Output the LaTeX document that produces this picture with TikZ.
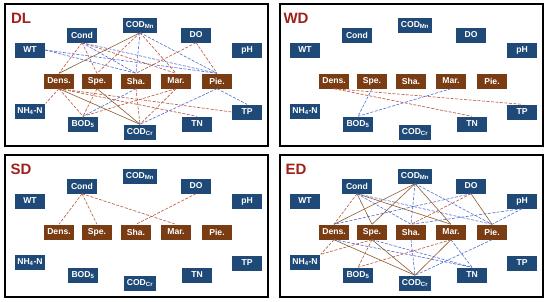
\documentclass[tikz,border=0pt]{standalone}
\usepackage{fontspec}
\setmainfont{Liberation Sans}
\usetikzlibrary{positioning}

\definecolor{boxblue}{HTML}{1F4A78}
\definecolor{boxbrown}{HTML}{7A3C12}
\definecolor{tagred}{HTML}{A0201C}
\definecolor{linkbrown}{HTML}{8B5A2B}
\definecolor{linkred}{HTML}{B8553C}
\definecolor{linkblue}{HTML}{4F6BD0}

% the fifteen boxes of one panel, #1 = panel tag
\newcommand{\panelnodes}[1]{%
  \draw[frame] (5,4) rectangle (268,146);
  \node[tag] (tag) at (21,18) {#1};
  \node[param] (wt) at (30,50) {WT};
  \node[param] (cond) at (82,35) {Cond};
  \node[param] (codmn) at (140,25) {COD\textsubscript{Mn}};
  \node[param] (do) at (196,35) {DO};
  \node[param] (ph) at (247,50) {pH};
  \node[feature] (dens) at (59,81) {Dens.};
  \node[feature] (spe) at (97,81) {Spe.};
  \node[feature] (sha) at (136,81) {Sha.};
  \node[feature] (mar) at (176,81) {Mar.};
  \node[feature] (pie) at (217,81) {Pie.};
  \node[param] (nh) at (30,111) {NH\textsubscript{4}-N};
  \node[param] (bod) at (83,124) {BOD\textsubscript{5}};
  \node[param] (codcr) at (140,132) {COD\textsubscript{Cr}};
  \node[param] (tn) at (197,124) {TN};
  \node[param] (tp) at (247,112) {TP};
}

\begin{document}
\begin{tikzpicture}[
    x=1pt, y=-1pt,
    frame/.style={draw=black, line width=1.1pt},
    tag/.style={text=tagred, font=\bfseries\fontsize{15}{17}\selectfont, inner sep=1pt},
    param/.style={rectangle, fill=boxblue, text=white, minimum width=30pt,
                  minimum height=15pt, inner sep=2.8pt, font=\bfseries\fontsize{8.6}{10}\selectfont},
    feature/.style={param, fill=boxbrown, minimum width=30pt, minimum height=15pt},
    strong/.style={draw=linkbrown, line width=0.6pt},
    weak/.style={draw=linkred, line width=0.6pt, dash pattern=on 3pt off 1.5pt},
    neg/.style={draw=linkblue, line width=0.6pt, dash pattern=on 3pt off 1.5pt}
]
\useasboundingbox (0,0) rectangle (550,301);

% DL
\begin{scope}[name prefix=dl-]
\panelnodes{DL}
\draw[weak] (cond.south) -- (dens.north);
\draw[weak] (cond.south) -- (spe.north);
\draw[neg] (cond.south) -- (sha.north);
\draw[weak] (cond.south) -- (mar.north);
\draw[neg] (cond.south) -- (pie.north);
\draw[strong] (codmn.south) -- (dens.north);
\draw[weak] (codmn.south) -- (spe.north);
\draw[neg] (codmn.south) -- (sha.north);
\draw[weak] (codmn.south) -- (mar.north);
\draw[neg] (codmn.south) -- (pie.north);
\draw[neg] (wt.east) -- (sha.north);
\draw[neg] (wt.east) -- (pie.north);
\draw[weak] (do.south) -- (sha.north);
\draw[weak] (do.south) -- (pie.north);
\draw[weak] (dens.south) -- (nh.north east);
\draw[weak] (dens.south) -- (bod.north);
\draw[strong] (dens.south) -- (codcr.north);
\draw[weak] (dens.south) -- (tn.north);
\draw[weak] (dens.south) -- (tp.west);
\draw[weak] (spe.south) -- (bod.north);
\draw[strong] (spe.south) -- (codcr.north);
\draw[neg] (sha.south) -- (bod.north);
\draw[weak] (sha.south) -- (codcr.north);
\draw[weak] (mar.south) -- (bod.north);
\draw[weak] (mar.south) -- (codcr.north);
\draw[neg] (pie.south) -- (codcr.north);
\draw[neg] (pie.south) -- (tp.north);
\end{scope}

% WD
\begin{scope}[shift={(275,0)}, name prefix=wd-]
\panelnodes{WD}
\draw[weak] (dens.south) -- (tn.north);
\draw[weak] (dens.south) -- (tp.north);
\draw[neg] (spe.south) -- (bod.north);
\draw[neg] (mar.south) -- (bod.north);
\end{scope}

% SD
\begin{scope}[shift={(0,151)}, name prefix=sd-]
\panelnodes{SD}
\draw[weak] (cond.south) -- (dens.north);
\draw[weak] (cond.south) -- (spe.north);
\draw[weak] (cond.south) -- (mar.north);
\draw[weak] (do.south) -- (sha.north);
\end{scope}

% ED
\begin{scope}[shift={(275,151)}, name prefix=ed-]
\panelnodes{ED}
\draw[weak] (cond.south) -- (dens.north);
\draw[strong] (cond.south) -- (spe.north);
\draw[neg] (cond.south) -- (sha.north);
\draw[strong] (cond.south) -- (mar.north);
\draw[neg] (cond.south) -- (pie.north);
\draw[strong] (codmn.south) -- (dens.north);
\draw[strong] (codmn.south) -- (spe.north);
\draw[neg] (codmn.south) -- (sha.north);
\draw[strong] (codmn.south) -- (mar.north);
\draw[neg] (codmn.south) -- (pie.north);
\draw[neg] (do.south) -- (dens.north);
\draw[weak] (do.south) -- (sha.north);
\draw[strong] (do.south) -- (pie.north);
\draw[neg] (ph.south) -- (sha.north);
\draw[neg] (ph.south) -- (pie.north);
\draw[weak] (dens.south) -- (nh.north east);
\draw[strong] (dens.south) -- (codcr.north);
\draw[neg] (dens.south) -- (tn.north);
\draw[weak] (spe.south) -- (nh.north east);
\draw[weak] (spe.south) -- (bod.north);
\draw[strong] (spe.south) -- (codcr.north);
\draw[neg] (spe.south) -- (tn.north);
\draw[neg] (sha.south) -- (codcr.north);
\draw[weak] (mar.south) -- (bod.north);
\draw[strong] (mar.south) -- (codcr.north);
\draw[neg] (mar.south) -- (tn.north);
\draw[neg] (pie.south) -- (codcr.north);
\end{scope}
\end{tikzpicture}
\end{document}
